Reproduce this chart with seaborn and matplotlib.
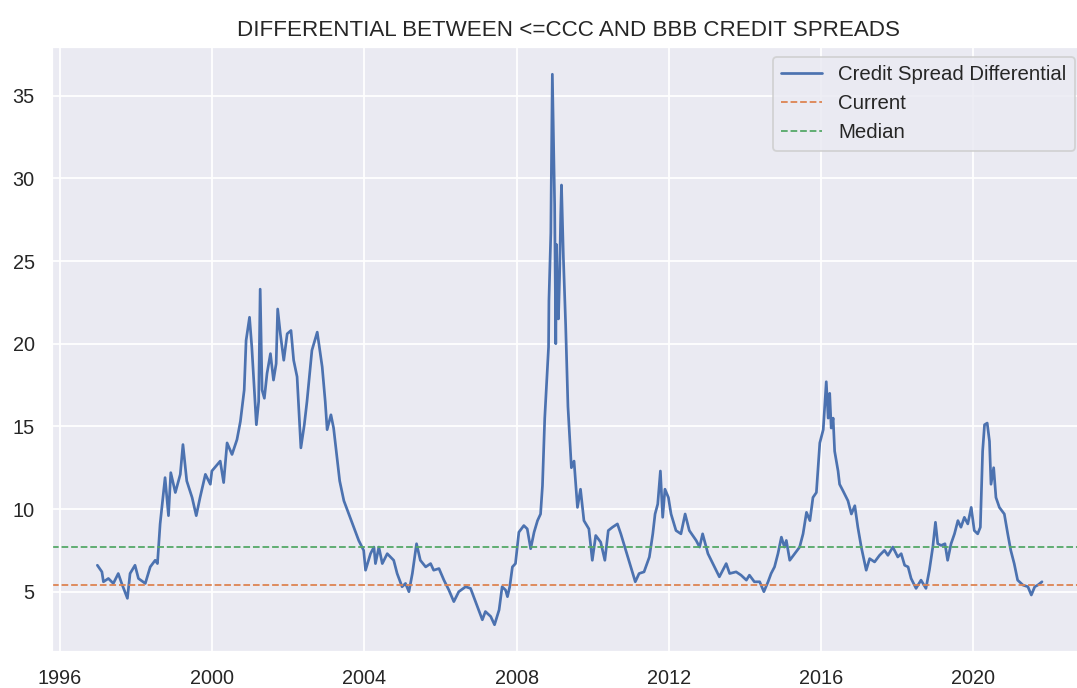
import numpy as np
import pandas as pd
import matplotlib
matplotlib.use("Agg")
import matplotlib.pyplot as plt
import matplotlib.dates as mdates
import seaborn as sns

# credit spread differential (<=CCC minus BBB), decimal years
years = [
    1996.98, 1997.10, 1997.14, 1997.27, 1997.40, 1997.53, 1997.62, 1997.77, 1997.84, 1997.97,
    1998.06, 1998.24, 1998.37, 1998.50, 1998.56, 1998.63, 1998.76, 1998.85, 1998.91, 1999.03,
    1999.16, 1999.23, 1999.33, 1999.47, 1999.58, 1999.68, 1999.82, 1999.95, 1999.99, 2000.21,
    2000.30, 2000.39, 2000.52, 2000.65, 2000.74, 2000.84, 2000.89, 2000.98, 2001.04, 2001.16,
    2001.22, 2001.26, 2001.31, 2001.37, 2001.44, 2001.53, 2001.61, 2001.68, 2001.72, 2001.79,
    2001.88, 2001.97, 2002.07, 2002.14, 2002.23, 2002.33, 2002.42, 2002.49, 2002.62, 2002.76,
    2002.89, 2002.97, 2003.02, 2003.12, 2003.19, 2003.28, 2003.35, 2003.46, 2003.59, 2003.72,
    2003.85, 2003.98, 2004.03, 2004.16, 2004.25, 2004.29, 2004.38, 2004.47, 2004.60, 2004.77,
    2004.86, 2004.99, 2005.08, 2005.17, 2005.26, 2005.37, 2005.47, 2005.61, 2005.74, 2005.82,
    2005.96, 2006.09, 2006.22, 2006.35, 2006.48, 2006.66, 2006.79, 2006.92, 2007.10, 2007.18,
    2007.32, 2007.42, 2007.54, 2007.62, 2007.71, 2007.76, 2007.82, 2007.89, 2007.97, 2008.06,
    2008.19, 2008.28, 2008.37, 2008.46, 2008.55, 2008.63, 2008.68, 2008.74, 2008.79, 2008.84,
    2008.85, 2008.90, 2008.91, 2008.94, 2008.98, 2009.00, 2009.03, 2009.05, 2009.07, 2009.10,
    2009.13, 2009.16, 2009.18, 2009.23, 2009.29, 2009.35, 2009.40, 2009.44, 2009.51, 2009.60,
    2009.68, 2009.77, 2009.90, 2009.99, 2010.08, 2010.21, 2010.32, 2010.41, 2010.52, 2010.65,
    2010.74, 2010.87, 2011.00, 2011.12, 2011.22, 2011.35, 2011.49, 2011.58, 2011.64, 2011.71,
    2011.78, 2011.84, 2011.90, 2011.99, 2012.06, 2012.19, 2012.32, 2012.43, 2012.54, 2012.72,
    2012.81, 2012.89, 2013.03, 2013.20, 2013.33, 2013.51, 2013.60, 2013.77, 2013.90, 2014.04,
    2014.12, 2014.25, 2014.39, 2014.50, 2014.61, 2014.69, 2014.78, 2014.87, 2014.96, 2015.04,
    2015.09, 2015.18, 2015.31, 2015.44, 2015.53, 2015.62, 2015.71, 2015.79, 2015.88, 2015.97,
    2016.06, 2016.14, 2016.19, 2016.23, 2016.27, 2016.32, 2016.36, 2016.45, 2016.49, 2016.58,
    2016.71, 2016.80, 2016.89, 2016.97, 2017.06, 2017.19, 2017.28, 2017.41, 2017.54, 2017.67,
    2017.76, 2017.89, 2018.02, 2018.11, 2018.20, 2018.29, 2018.37, 2018.50, 2018.63, 2018.76,
    2018.85, 2018.94, 2019.01, 2019.07, 2019.16, 2019.26, 2019.33, 2019.42, 2019.51, 2019.60,
    2019.68, 2019.77, 2019.86, 2019.95, 2020.03, 2020.12, 2020.19, 2020.25, 2020.30, 2020.37,
    2020.43, 2020.47, 2020.54, 2020.60, 2020.69, 2020.82, 2020.91, 2020.99, 2021.08, 2021.17,
    2021.31, 2021.44, 2021.53, 2021.62, 2021.70, 2021.81,
]
spread_diff = [
    6.6, 6.2, 5.6, 5.8, 5.5, 6.1, 5.5, 4.6, 6.1, 6.6,
    5.8, 5.5, 6.5, 6.9, 6.7, 9.1, 11.9, 9.6, 12.2, 11.0,
    12.1, 13.9, 11.7, 10.7, 9.6, 10.7, 12.1, 11.5, 12.3, 12.9,
    11.6, 14.0, 13.3, 14.2, 15.3, 17.2, 20.2, 21.6, 19.8, 15.1,
    16.5, 23.3, 17.2, 16.7, 18.2, 19.4, 17.8, 18.8, 22.1, 20.6,
    19.0, 20.6, 20.8, 19.0, 18.0, 13.7, 15.1, 16.5, 19.6, 20.7,
    18.6, 16.5, 14.8, 15.7, 14.9, 13.1, 11.7, 10.5, 9.7, 8.9,
    8.1, 7.5, 6.3, 7.3, 7.7, 6.7, 7.7, 6.7, 7.3, 6.9,
    6.1, 5.3, 5.5, 5.0, 6.1, 7.9, 6.9, 6.5, 6.7, 6.3,
    6.4, 5.7, 5.1, 4.4, 5.0, 5.3, 5.2, 4.4, 3.3, 3.8,
    3.5, 3.0, 3.9, 5.3, 5.1, 4.7, 5.3, 6.5, 6.7, 8.6,
    9.0, 8.8, 7.6, 8.6, 9.3, 9.7, 11.4, 15.5, 17.7, 19.8,
    22.6, 26.7, 29.3, 36.3, 30.8, 28.4, 20.0, 26.0, 23.1, 21.5,
    24.1, 27.8, 29.6, 25.2, 21.1, 16.2, 14.2, 12.5, 12.9, 10.1,
    11.2, 9.3, 8.8, 6.9, 8.4, 8.0, 6.9, 8.7, 8.9, 9.1,
    8.5, 7.5, 6.5, 5.6, 6.1, 6.2, 7.1, 8.5, 9.7, 10.3,
    12.3, 9.5, 11.2, 10.7, 9.7, 8.7, 8.5, 9.7, 8.7, 8.1,
    7.7, 8.5, 7.3, 6.5, 5.9, 6.7, 6.1, 6.2, 6.0, 5.7,
    6.0, 5.6, 5.6, 5.0, 5.6, 6.1, 6.5, 7.3, 8.3, 7.7,
    8.1, 6.9, 7.3, 7.7, 8.5, 9.8, 9.3, 10.7, 11.0, 14.0,
    14.8, 17.7, 15.5, 17.0, 14.9, 15.5, 13.5, 12.3, 11.5, 11.1,
    10.5, 9.7, 10.2, 8.9, 7.7, 6.3, 7.0, 6.8, 7.2, 7.5,
    7.2, 7.7, 7.1, 7.3, 6.6, 6.5, 5.8, 5.2, 5.7, 5.2,
    6.3, 7.7, 9.2, 7.9, 7.8, 7.9, 6.9, 7.9, 8.5, 9.3,
    8.9, 9.5, 9.1, 10.1, 8.7, 8.5, 8.9, 13.5, 15.1, 15.2,
    14.1, 11.5, 12.5, 10.7, 10.1, 9.7, 8.5, 7.5, 6.7, 5.7,
    5.4, 5.3, 4.8, 5.3, 5.4, 5.6,
]
current_value = 5.43
median_value = 7.68


def to_date(yr):
    # decimal years -> timestamps
    return pd.to_datetime("1996-01-01") + pd.to_timedelta((np.asarray(yr) - 1996) * 365.25, unit="D")


df = pd.DataFrame({"date": to_date(years), "diff": spread_diff})

sns.set_theme(style="darkgrid")
plt.rcParams["font.family"] = ["Liberation Sans", "DejaVu Sans"]

fig = plt.figure(figsize=(1077 / 130, 688 / 130), dpi=130)
ax = fig.add_axes([0.048, 0.0519, 0.9594, 0.8802])

sns.lineplot(data=df, x="date", y="diff", ax=ax, label="Credit Spread Differential")
ax.axhline(current_value, color="C1", linestyle="--", linewidth=1, label="Current")
ax.axhline(median_value, color="C2", linestyle="--", linewidth=1, label="Median")

ax.set_xlim(to_date(1995.78), to_date(2022.94))
ax.xaxis.set_major_locator(mdates.YearLocator(4))
ax.xaxis.set_major_formatter(mdates.DateFormatter("%Y"))
ax.set_xlabel("")
ax.set_ylabel("")
ax.set_title("DIFFERENTIAL BETWEEN <=CCC AND BBB CREDIT SPREADS", fontsize=12.4)
ax.legend(loc="upper right", fontsize=11.3)

fig.savefig("out.png", dpi=130)
